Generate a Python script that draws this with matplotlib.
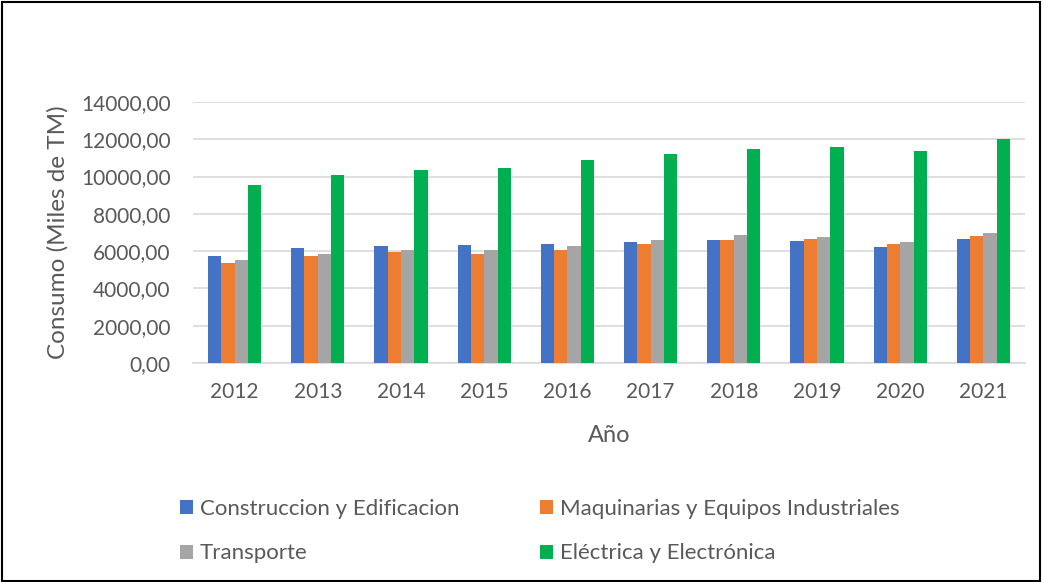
import matplotlib.pyplot as plt
import numpy as np
from matplotlib.patches import Rectangle
from matplotlib.ticker import FuncFormatter

years = ["2012", "2013", "2014", "2015", "2016", "2017", "2018", "2019", "2020", "2021"]
construccion = [5760, 6170, 6300, 6330, 6390, 6480, 6620, 6530, 6230, 6640]
maquinarias = [5360, 5760, 5970, 5830, 6050, 6400, 6620, 6660, 6370, 6820]
transporte = [5510, 5870, 6060, 6050, 6300, 6580, 6870, 6780, 6510, 6960]
electrica = [9560, 10080, 10370, 10480, 10890, 11210, 11480, 11590, 11360, 12040]

series_names = ["Construccion y Edificacion", "Maquinarias y Equipos Industriales",
                "Transporte", "Eléctrica y Electrónica"]
colors = ["#4472C4", "#ED7D31", "#A5A5A5", "#00B050"]

plt.rcParams['font.family'] = ['Lato', 'DejaVu Sans']
text_color = "#595959"

fig = plt.figure(figsize=(10.44, 5.82), dpi=100)
ax = fig.add_axes([193 / 1044, 1 - 363 / 582, (1025 - 193) / 1044, (363 - 102) / 582])

x = np.arange(len(years))
width = 0.16
all_series = [construccion, maquinarias, transporte, electrica]
bars = []
for i, (vals, name, c) in enumerate(zip(all_series, series_names, colors)):
    bars.append(ax.bar(x + (i - 1.5) * width, vals, width, color=c, label=name, zorder=3))

ax.set_xlim(-0.5, len(years) - 0.5)
ax.set_ylim(0, 14000)
ax.set_yticks(np.arange(0, 14001, 2000))
ax.yaxis.set_major_formatter(FuncFormatter(lambda v, p: f"{v:.2f}".replace(".", ",")))
ax.set_xticks(x)
ax.set_xticklabels(years)
ax.grid(axis="y", color="#D9D9D9", linewidth=1.2, zorder=0)
for s in ["top", "right", "left"]:
    ax.spines[s].set_visible(False)
ax.spines["bottom"].set_color("#D9D9D9")
ax.spines["bottom"].set_linewidth(1.2)
ax.tick_params(axis="both", length=0, labelsize=15, colors=text_color)
ax.tick_params(axis="y", pad=16)
ax.tick_params(axis="x", pad=14)

ax.set_ylabel("Consumo (Miles de TM)", fontsize=17.5, color=text_color, labelpad=9)
ax.set_xlabel("Año", fontsize=17, color=text_color, labelpad=16)

# row-wise legend order (matplotlib fills columns first)
order = [0, 2, 1, 3]
fig.legend([bars[i] for i in order], [series_names[i] for i in order],
           loc="upper left", bbox_to_anchor=(160 / 1044, 1 - 479 / 582), ncol=2,
           frameon=False, fontsize=16, labelcolor=text_color, handlelength=0.6,
           handleheight=0.6, handletextpad=0.3, columnspacing=3.6, labelspacing=1.1)

fig.patches.append(Rectangle((0.002, 0.002), 0.994, 0.994, transform=fig.transFigure,
                             fill=False, edgecolor="black", linewidth=1.5))

fig.savefig("out.png", dpi=100)
